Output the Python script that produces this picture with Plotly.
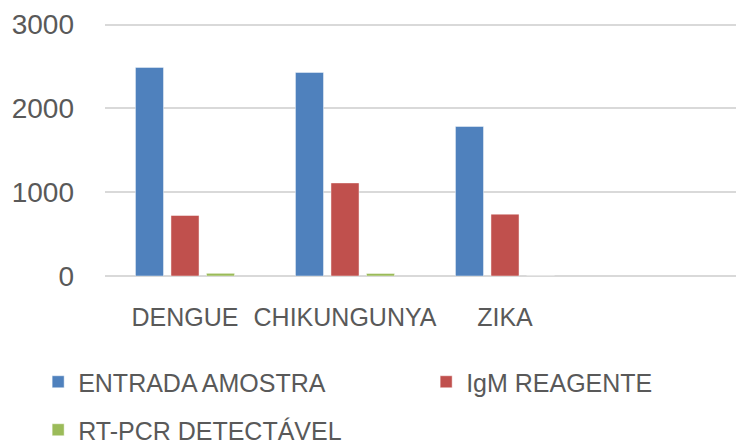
import plotly.graph_objects as go

categories = ["DENGUE", "CHIKUNGUNYA", "ZIKA"]
entrada_amostra = [2490, 2430, 1785]
igm_reagente = [722, 1111, 738]
rt_pcr = [32, 30, 0]
y_ticks = [0, 1000, 2000, 3000]

FONT = "Liberation Sans"
GRAY = "#595959"
xpos = list(range(len(categories)))

fig = go.Figure()
edge = dict(color="rgba(255,255,255,0.45)", width=1)
fig.add_trace(go.Bar(x=xpos, y=entrada_amostra, name="ENTRADA AMOSTRA",
                     marker=dict(color="#4F81BD", line=edge), legend="legend"))
fig.add_trace(go.Bar(x=xpos, y=igm_reagente, name="IgM REAGENTE",
                     marker=dict(color="#C0504D", line=edge), legend="legend2"))
fig.add_trace(go.Bar(x=xpos, y=rt_pcr, name="RT-PCR DETECTÁVEL",
                     marker=dict(color="#9BBB59", line=edge), legend="legend3"))

LX = 0.0396 + 9 / 736

def leg(x, y):
    return dict(orientation="h", xref="container", yref="container",
                x=x, y=y, xanchor="left", yanchor="middle",
                font=dict(size=25, color=GRAY), bgcolor="rgba(0,0,0,0)")

fig.update_layout(
    width=736, height=444,
    margin=dict(l=105, r=0, t=23, b=168, autoexpand=False),
    paper_bgcolor="white", plot_bgcolor="white",
    barmode="group", bargap=0.334, bargroupgap=0.21,
    font=dict(family=FONT, color=GRAY, size=25),
    showlegend=True,
    legend=leg(LX, 1 - 382 / 444),
    legend2=leg(LX + 388 / 736, 1 - 382 / 444),
    legend3=leg(LX, 1 - 430 / 444),
    xaxis=dict(range=[-0.5, 3.44375], tickvals=xpos, ticktext=categories,
               showgrid=False, zeroline=False, showline=False, ticks="",
               ticklabelstandoff=24, tickfont=dict(size=25, color=GRAY)),
    yaxis=dict(range=[0, 3020], tickvals=y_ticks, showgrid=True,
               gridcolor="#D9D9D9", gridwidth=1.5, zeroline=True,
               zerolinecolor="#D9D9D9", zerolinewidth=1.5, showline=False,
               ticks="", ticklabelstandoff=30,
               tickfont=dict(size=28, color=GRAY)),
)

fig.write_html("out.html", config={"displayModeBar": False},
               post_script="document.body.style.margin='0';")
